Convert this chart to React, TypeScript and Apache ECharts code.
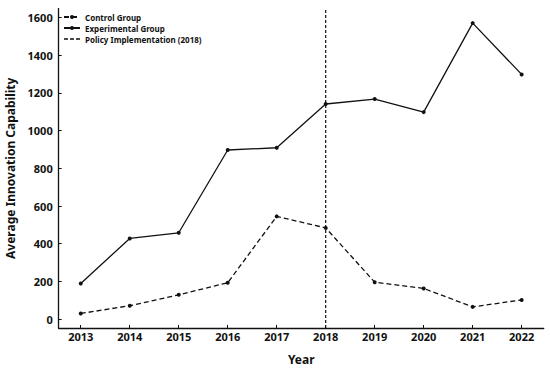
import React, { useEffect, useRef } from "react";
import * as echarts from "echarts";

const years = [2013, 2014, 2015, 2016, 2017, 2018, 2019, 2020, 2021, 2022];
const controlValues = [30, 71, 129, 193, 545, 484, 196, 163, 65, 102];
const experimentalValues = [189, 428, 458, 897, 909, 1141, 1167, 1098, 1570, 1298];
const yTicks = [0, 200, 400, 600, 800, 1000, 1200, 1400, 1600];
const policyYear = 2018;

const FONT = "Noto Sans";
const DASH_ICON = "path://M0,0h4v1.3h-4zM6,0h4v1.3h-4zM12,0h4v1.3h-4z";

export default function App() {
  const ref = useRef<HTMLDivElement>(null);
  useEffect(() => {
    if (!ref.current) return;
    const chart = echarts.init(ref.current, null, { renderer: "svg" });
    const yMin = -47;
    const yMax = 1647;
    chart.setOption({
      animation: false,
      backgroundColor: "#ffffff",
      textStyle: { fontFamily: FONT },
      grid: {
        left: 58.7,
        right: 6.3,
        top: 8.6,
        bottom: 41,
        containLabel: false,
        outerBoundsMode: "none",
      },
      legend: {
        orient: "vertical",
        left: 63,
        top: 13,
        itemWidth: 16,
        itemHeight: 5,
        itemGap: 3,
        padding: 0,
        textStyle: { fontSize: 8, fontWeight: "bold", color: "#111", fontFamily: FONT },
        data: [
          { name: "Control Group" },
          { name: "Experimental Group" },
          { name: "Policy Implementation (2018)", icon: DASH_ICON, itemStyle: { color: "#111" } },
        ],
      },
      xAxis: {
        type: "value",
        min: 2012.55,
        max: 2022.45,
        name: "Year",
        nameLocation: "middle",
        nameGap: 25,
        nameTextStyle: { fontSize: 12, fontWeight: "bold", color: "#111", fontFamily: FONT },
        axisLine: { show: true, onZero: false, lineStyle: { color: "#111", width: 1.3 } },
        axisTick: { show: true, inside: true, length: 3, customValues: years, lineStyle: { color: "#111" } },
        axisLabel: {
          customValues: years,
          fontSize: 11,
          fontWeight: "bold",
          color: "#111",
          margin: 3,
          fontFamily: FONT,
          formatter: (v: number) => String(Math.round(v)),
        },
        splitLine: { show: false },
      },
      yAxis: {
        type: "value",
        min: yMin,
        max: yMax,
        name: "Average Innovation Capability",
        nameLocation: "middle",
        nameGap: 41,
        nameTextStyle: { fontSize: 12, fontWeight: "bold", color: "#111", fontFamily: FONT },
        axisLine: { show: true, onZero: false, lineStyle: { color: "#111", width: 1.3 } },
        axisTick: { show: true, inside: true, length: 3, customValues: yTicks, lineStyle: { color: "#111" } },
        axisLabel: {
          customValues: yTicks,
          fontSize: 11,
          fontWeight: "bold",
          color: "#111",
          margin: 6,
          fontFamily: FONT,
          formatter: (v: number) => String(Math.round(v)),
        },
        splitLine: { show: false },
      },
      series: [
        {
          name: "Control Group",
          type: "line",
          data: years.map((y, i) => [y, controlValues[i]]),
          symbol: "circle",
          symbolSize: 4,
          itemStyle: { color: "#111" },
          lineStyle: { color: "#111", width: 1.3, type: [5, 3] },
        },
        {
          name: "Experimental Group",
          type: "line",
          data: years.map((y, i) => [y, experimentalValues[i]]),
          symbol: "circle",
          symbolSize: 4,
          itemStyle: { color: "#111" },
          lineStyle: { color: "#111", width: 1.3, type: "solid" },
        },
        {
          name: "Policy Implementation (2018)",
          type: "line",
          data: [
            [policyYear, yMin],
            [policyYear, yMax],
          ],
          symbol: "none",
          itemStyle: { color: "#111" },
          lineStyle: { color: "#111", width: 1.2, type: [3, 2] },
        },
      ],
    });
    return () => chart.dispose();
  }, []);
  return (
    <div
      ref={ref}
      style={{ position: "fixed", left: 0, top: 0, width: 550, height: 369, background: "#fff" }}
    />
  );
}
